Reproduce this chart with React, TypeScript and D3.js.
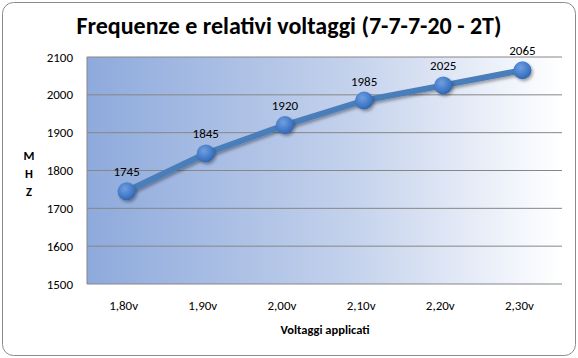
import React from "react";
import * as d3 from "d3";

const categories = ["1,80v", "1,90v", "2,00v", "2,10v", "2,20v", "2,30v"];
const values = [1745, 1845, 1920, 1985, 2025, 2065];
const yTicks = [1500, 1600, 1700, 1800, 1900, 2000, 2100];

export default function App() {
  const W = 578, H = 358;
  const m = { left: 87, right: 16, top: 57, bottom: 74 };
  const x = d3.scaleBand().domain(categories).range([m.left, W - m.right]);
  const y = d3.scaleLinear().domain([1500, 2100]).range([H - m.bottom, m.top]);
  const line = d3.line<number>()
    .x((_, i) => (x(categories[i]) as number) + x.bandwidth() / 2)
    .y((d) => y(d));
  const font = "Calibri, Carlito, 'Open Sans', 'Liberation Sans', sans-serif";
  return (
    <svg width={W} height={H} style={{ position: "absolute", left: 0, top: 0 }} fontFamily={font}>
      <defs>
        <linearGradient id="bg" x1="0" x2="1" y1="0" y2="0">
          <stop offset="0" stopColor="#8eaadc" />
          <stop offset="0.55" stopColor="#c3d1ec" />
          <stop offset="1" stopColor="#ffffff" />
        </linearGradient>
        <radialGradient id="mk" cx="0.4" cy="0.35" r="0.7">
          <stop offset="0" stopColor="#6f9fe0" />
          <stop offset="0.7" stopColor="#3f76c4" />
          <stop offset="1" stopColor="#2f5fa5" />
        </radialGradient>
        <filter id="sh" x="-50%" y="-50%" width="200%" height="200%">
          <feDropShadow dx="1.5" dy="2" stdDeviation="1.5" floodColor="#000" floodOpacity="0.35" />
        </filter>
      </defs>
      <rect x={0} y={0} width={W} height={H} fill="#fff" />
      <rect x={2.5} y={2.5} width={W - 5} height={H - 5} rx={11} fill="#fff" stroke="#8c8c8c" strokeWidth={1} />
      <text x={W / 2} y={34} textAnchor="middle" fontSize={24} fontWeight="bold" fill="#000">
        Frequenze e relativi voltaggi (7-7-7-20 - 2T)
      </text>
      <rect x={m.left} y={m.top} width={W - m.right - m.left} height={H - m.bottom - m.top} fill="url(#bg)" />
      {yTicks.map((t) => (
        <g key={t}>
          <line x1={m.left} x2={W - m.right} y1={y(t)} y2={y(t)} stroke="#868686" strokeWidth={1} />
          <text x={73} y={y(t) + 4.5} textAnchor="end" fontSize={13} fill="#000">{t}</text>
        </g>
      ))}
      <line x1={m.left} x2={m.left} y1={m.top} y2={H - m.bottom} stroke="#868686" />
      {categories.map((c) => (
        <text key={c} x={(x(c) as number) + x.bandwidth() / 2 - 3} y={310} textAnchor="middle" fontSize={13} fill="#000">{c}</text>
      ))}
      <text x={325} y={334} textAnchor="middle" fontSize={12.5} fontWeight="bold" fill="#000">Voltaggi applicati</text>
      {["M", "H", "Z"].map((ch, i) => (
        <text key={ch} x={29} y={160 + i * 18} textAnchor="middle" fontSize={12.5} fontWeight="bold" fill="#000">{ch}</text>
      ))}
      <path d={line(values) as string} fill="none" stroke="#4a7ebb" strokeWidth={6} strokeLinejoin="round" filter="url(#sh)" />
      {values.map((v, i) => {
        const cx = (x(categories[i]) as number) + x.bandwidth() / 2;
        return (
          <g key={i}>
            <circle cx={cx} cy={y(v)} r={9} fill="url(#mk)" filter="url(#sh)" />
            <text x={cx} y={y(v) - 15} textAnchor="middle" fontSize={13} fill="#000">{v}</text>
          </g>
        );
      })}
    </svg>
  );
}
